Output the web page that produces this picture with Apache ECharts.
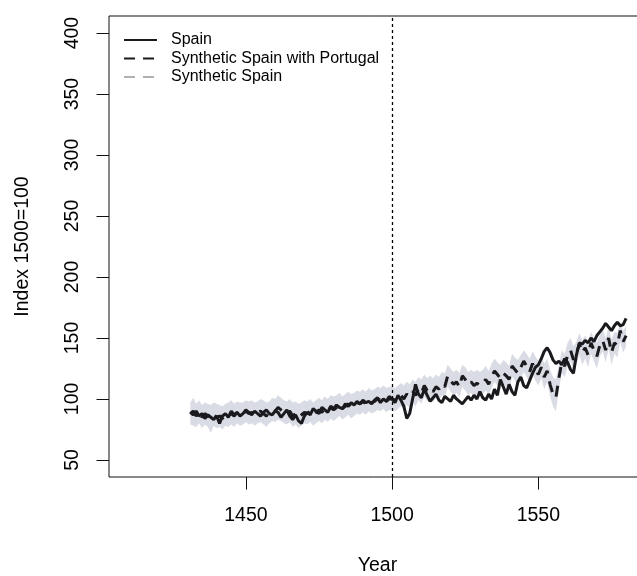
<!DOCTYPE html>
<html>
<head>
<meta charset="utf-8">
<script src="https://cdn.jsdelivr.net/npm/echarts@6/dist/echarts.min.js"></script>
<style>
    html, body { margin: 0; padding: 0; background: #fff; }
    #chart { width: 637px; height: 576px; }
</style>
</head>
<body>
<div id="chart"></div>
<script>
const firstYear = 1431
const xTicks = [1450, 1500, 1550]
const yTicks = [50, 100, 150, 200, 250, 300, 350, 400]
const seriesNames = ['Spain', 'Synthetic Spain with Portugal', 'Synthetic Spain']

const spain = [
    89, 87, 90, 86, 88, 84, 87, 85, 83, 86,
    80, 86, 88, 85, 90, 87, 89, 86, 88, 91,
    89, 87, 90, 88, 86, 89, 91, 88, 87, 90,
    89, 85, 88, 91, 86, 83, 87, 82, 80, 86,
    89, 87, 92, 90, 88, 93, 91, 89, 94, 92,
    95, 93, 92, 96, 94, 97, 95, 98, 96, 99,
    97, 98, 96, 99, 101, 97, 100, 98, 102, 100,
    97, 103, 99, 94, 84, 88, 100, 112, 104, 101,
    108, 103, 98, 101, 104, 99, 97, 102, 100, 98,
    103, 100, 98, 96, 99, 102, 99, 103, 100, 106,
    101, 99, 104, 100, 108, 103, 116, 110, 104, 112,
    106, 103, 114, 118, 111, 109, 115, 121, 126, 128,
    133, 139, 142, 138, 132, 129, 131, 128, 133, 130,
    124, 121, 136, 146, 145, 148, 146, 150, 147, 152,
    155, 158, 162, 159, 156, 160, 163, 160, 161, 166
]
const synthPortugal = [
    88, 90, 86, 89, 85, 88, 86, 84, 87, 85,
    86, 84, 87, 86, 88, 86, 89, 87, 88, 90,
    88, 89, 87, 89, 90, 88, 86, 89, 91, 90,
    93, 91, 89, 88, 90, 86, 88, 85, 87, 89,
    88, 90, 87, 89, 91, 89, 92, 90, 93, 91,
    93, 95, 92, 94, 96, 93, 95, 97, 96, 98,
    96, 99, 97, 98, 100, 99, 101, 98, 100, 100,
    99, 101, 103, 100, 104, 102, 106, 103, 108, 105,
    111, 107, 109, 106, 110, 108, 112, 110, 119, 115,
    112, 114, 110, 119, 116, 112, 114, 111, 113, 111,
    113, 116, 112, 118, 123, 120, 117, 121, 119, 116,
    127, 124, 121, 126, 131, 127, 122, 129, 124, 120,
    126, 118, 123, 112, 104, 101, 117, 130, 127, 136,
    140, 132, 137, 145, 138, 142, 136, 146, 140, 135,
    144, 148, 140, 150, 138, 146, 144, 156, 147, 152
]
const synthSpain = [
    88, 89, 86, 88, 86, 87, 86, 85, 87, 85,
    86, 85, 87, 86, 88, 87, 89, 87, 88, 89,
    88, 89, 88, 89, 90, 88, 87, 89, 90, 90,
    92, 91, 89, 88, 89, 87, 88, 86, 87, 89,
    88, 90, 88, 89, 91, 89, 91, 90, 92, 91,
    93, 94, 92, 94, 95, 93, 95, 96, 96, 98,
    96, 98, 97, 98, 100, 99, 100, 98, 100, 100,
    99, 101, 102, 100, 103, 102, 105, 103, 107, 105,
    110, 107, 108, 106, 110, 108, 111, 110, 118, 115,
    112, 114, 110, 118, 116, 112, 114, 111, 113, 111,
    113, 116, 112, 118, 122, 120, 117, 121, 119, 116,
    126, 124, 121, 126, 130, 127, 122, 129, 124, 121,
    126, 119, 123, 113, 106, 103, 117, 129, 127, 135,
    139, 132, 137, 144, 138, 142, 137, 146, 140, 136,
    144, 147, 141, 149, 139, 146, 144, 155, 147, 151
]
const bandLower = [
    79, 78, 77, 80, 76, 79, 77, 72, 78, 76,
    77, 75, 78, 77, 79, 77, 80, 78, 79, 81,
    79, 80, 78, 80, 81, 79, 77, 80, 82, 81,
    83, 82, 80, 79, 81, 77, 79, 76, 78, 80,
    79, 81, 78, 80, 82, 80, 83, 81, 84, 82,
    84, 86, 83, 85, 87, 84, 86, 88, 87, 89,
    87, 90, 88, 89, 91, 90, 92, 89, 91, 91,
    90, 92, 94, 91, 95, 93, 97, 94, 99, 96,
    102, 98, 100, 97, 101, 99, 103, 101, 110, 106,
    103, 105, 101, 110, 107, 103, 105, 102, 104, 102,
    104, 107, 103, 109, 114, 111, 108, 112, 110, 107,
    118, 115, 112, 117, 122, 118, 113, 120, 115, 111,
    117, 108, 114, 102, 94, 90, 107, 121, 118, 127,
    131, 122, 128, 136, 128, 133, 126, 137, 131, 125,
    135, 139, 130, 141, 128, 137, 134, 147, 138, 143
]
const bandUpper = [
    97, 101, 96, 99, 95, 97, 96, 95, 97, 96,
    95, 94, 96, 97, 99, 96, 98, 97, 97, 99,
    98, 99, 97, 98, 100, 99, 97, 98, 101, 100,
    103, 101, 99, 98, 100, 97, 98, 96, 97, 99,
    98, 100, 97, 99, 101, 99, 102, 100, 103, 102,
    103, 105, 102, 104, 106, 104, 105, 107, 106, 108,
    106, 109, 107, 108, 110, 109, 111, 109, 110, 110,
    109, 111, 113, 111, 114, 112, 116, 114, 118, 116,
    120, 117, 119, 117, 120, 118, 122, 121, 128, 125,
    122, 124, 121, 128, 126, 122, 124, 122, 124, 122,
    124, 127, 123, 129, 133, 130, 128, 132, 130, 127,
    137, 134, 132, 136, 140, 137, 133, 139, 135, 131,
    136, 129, 133, 124, 118, 116, 128, 140, 137, 146,
    150, 143, 147, 154, 148, 152, 147, 155, 150, 146,
    153, 157, 150, 159, 149, 155, 154, 163, 156, 160
]

const toPairs = arr => arr.map((v, i) => [firstYear + i, v])
const bandData = bandLower.map((v, i) => [firstYear + i, v, bandUpper[i]])

const chart = echarts.init(document.getElementById('chart'))
const font = 'Liberation Sans, Arial, sans-serif'
const ink = '#1a1a1e'

chart.setOption({
    animation: false,
    textStyle: { fontFamily: font, color: '#000' },
    grid: {
        left: 109, right: -9, top: 16, bottom: 99,
        outerBoundsMode: 'none',
        show: true, borderColor: '#111', borderWidth: 1
    },
    legend: {
        data: seriesNames,
        orient: 'vertical',
        left: 118, top: 26,
        itemWidth: 33, itemHeight: 14, itemGap: 0.5,
        itemStyle: { opacity: 0 },
        textStyle: { fontSize: 16, lineHeight: 18, color: '#000', fontFamily: font, padding: [0, 0, 0, 9] }
    },
    xAxis: {
        type: 'value',
        min: 1403.2, max: 1586.8,
        name: 'Year', nameLocation: 'middle', nameGap: 79,
        nameTextStyle: { fontSize: 19.5, color: '#000' },
        axisLine: { show: false },
        splitLine: { show: false },
        axisTick: { show: true, length: 12.5, customValues: xTicks, lineStyle: { color: '#111' } },
        axisLabel: { customValues: xTicks, fontSize: 19.5, color: '#000', margin: 29, formatter: v => String(v) }
    },
    yAxis: {
        type: 'value',
        min: 36, max: 414,
        name: 'Index 1500=100', nameLocation: 'middle', nameGap: 76,
        nameTextStyle: { fontSize: 19.5, color: '#000' },
        axisLine: { show: false },
        splitLine: { show: false },
        axisTick: { show: true, length: 12.5, customValues: yTicks, lineStyle: { color: '#111' } },
        axisLabel: { customValues: yTicks, fontSize: 19.5, color: '#000', rotate: 90, margin: 26 }
    },
    series: [
        {
            name: seriesNames[2], type: 'line', data: toPairs(synthSpain),
            symbol: 'none', z: 1,
            lineStyle: { color: '#b0b0b0', width: 3, type: [11, 8] },
            itemStyle: { color: '#b0b0b0' }
        },
        {
            name: 'band', type: 'custom', data: bandData, silent: true, z: 2,
            encode: { x: 0, y: [1, 2] },
            renderItem(params, api) {
                if (params.dataIndex !== 0) return
                const points = []
                bandData.forEach(d => points.push(api.coord([d[0], d[2]])))
                for (let i = bandData.length - 1; i >= 0; i--) {
                    points.push(api.coord([bandData[i][0], bandData[i][1]]))
                }
                return { type: 'polygon', shape: { points }, style: { fill: '#dadce5' } }
            }
        },
        {
            name: seriesNames[1], type: 'line', data: toPairs(synthPortugal),
            symbol: 'none', z: 3,
            lineStyle: { color: ink, width: 3, type: [11, 8] },
            itemStyle: { color: ink }
        },
        {
            name: seriesNames[0], type: 'line', data: toPairs(spain),
            symbol: 'none', z: 4,
            lineStyle: { color: ink, width: 3 },
            itemStyle: { color: ink },
            markLine: {
                silent: true, symbol: 'none', label: { show: false },
                lineStyle: { color: '#000', type: [3, 3], width: 1.3 },
                data: [{ xAxis: 1500 }]
            }
        }
    ]
})
</script>
</body>
</html>
